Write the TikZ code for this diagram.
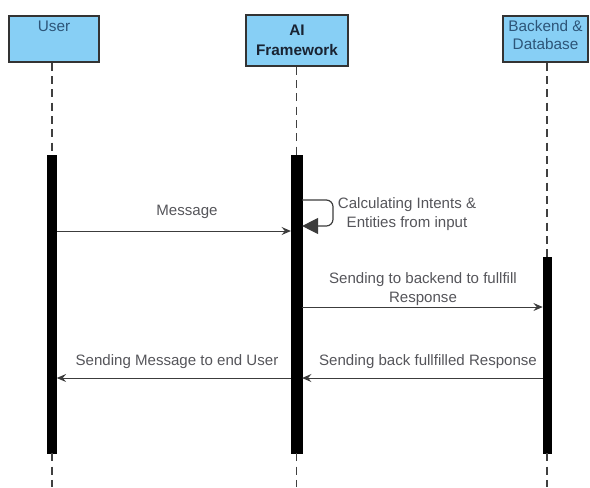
\documentclass[tikz,border=0pt]{standalone}
\usepackage{fontspec}
\setmainfont{Liberation Sans}
\usetikzlibrary{arrows.meta}

\definecolor{boxblue}{RGB}{135,207,245}
\definecolor{boxtext}{RGB}{45,85,120}
\definecolor{titletext}{RGB}{25,35,50}
\definecolor{msgtext}{RGB}{85,85,90}
\definecolor{msgline}{RGB}{60,60,60}

\begin{document}
\begin{tikzpicture}[x=0.75pt,y=0.75pt,yscale=-1,xscale=1,
  actor/.style={draw=black!80, fill=boxblue, line width=1pt, inner sep=0pt},
  actortext/.style={text=boxtext, align=center, inner sep=0pt, font=\fontsize{11.5}{14}\selectfont},
  bar/.style={fill=black, draw=black, inner sep=0pt},
  lifeline/.style={draw=black!75, line width=0.9pt, dash pattern=on 6pt off 4pt},
  msg/.style={draw=msgline, line width=0.75pt, -{Stealth[length=7pt,width=6pt,inset=2.5pt]}},
  selfloop/.style={draw=msgline, line width=0.9pt, rounded corners=5pt, -{Triangle[length=12pt,width=12pt]}},
  msgtext/.style={text=msgtext, align=center, inner sep=0pt, font=\fontsize{11.3}{13.8}\selectfont}]
\useasboundingbox (0,0) rectangle (590,487);

% Actors
\node[actor, minimum width=67.5pt, minimum height=34.5pt] (user) at (54,39) {};
\node[actortext] (usertitle) at (54,26) {User};
\node[actor, minimum width=76.5pt, minimum height=38.25pt] (ai) at (297,40.5) {};
\node[actortext, text=titletext, font=\bfseries\fontsize{11.5}{15}\selectfont] (aititle) at (297,40.5) {AI\\Framework};
\node[actor, minimum width=63.75pt, minimum height=34.5pt] (back) at (545.5,39) {};
\node[actortext] (backtitle) at (545.5,35) {Backend \&\\Database};

% Activation bars
\node[bar, minimum width=6.75pt, minimum height=223.5pt] (userbar) at (52,304) {};
\node[bar, minimum width=8pt, minimum height=223.5pt] (aibar) at (296.5,304) {};
\node[bar, minimum width=6pt, minimum height=147pt] (backbar) at (547,355) {};

% Lifelines
\coordinate (userend) at (52,487);
\coordinate (aiend) at (296.5,487);
\coordinate (backend) at (547,487);
\draw[lifeline] (user.south -| userbar) -- (userbar.north);
\draw[lifeline] (ai.south -| aibar) -- (aibar.north);
\draw[lifeline] (back.south -| backbar) -- (backbar.north);
\draw[lifeline] (userbar.south) -- (userend);
\draw[lifeline] (aibar.south) -- (aiend);
\draw[lifeline] (backbar.south) -- (backend);

% Message levels
\coordinate (m1) at (0,231);
\coordinate (s1) at (0,200);
\coordinate (s2) at (0,226);
\coordinate (loopr) at (333,0);
\coordinate (m2) at (0,307);
\coordinate (m3) at (0,378);

% Messages
\draw[msg] (userbar.east |- m1) -- (aibar.west |- m1);
\draw[selfloop] (aibar.east |- s1) -- (loopr |- s1) -- (loopr |- s2) -- (aibar.east |- s2);
\draw[msg] (aibar.east |- m2) -- (backbar.west |- m2);
\draw[msg] (backbar.west |- m3) -- (aibar.east |- m3);
\draw[msg] (aibar.west |- m3) -- (userbar.east |- m3);

% Text Nodes
\node[msgtext] (msgmessage) at (187,212) {Message};
\node[msgtext] (msgcalc) at (407,214) {Calculating Intents \&\\Entities from input};
\node[msgtext] (msgsend) at (423,289) {Sending to backend to fullfill\\Response};
\node[msgtext] (msgback) at (428,362) {Sending back fullfilled Response};
\node[msgtext] (msgend) at (177,362) {Sending Message to end User};

\end{tikzpicture}
\end{document}
